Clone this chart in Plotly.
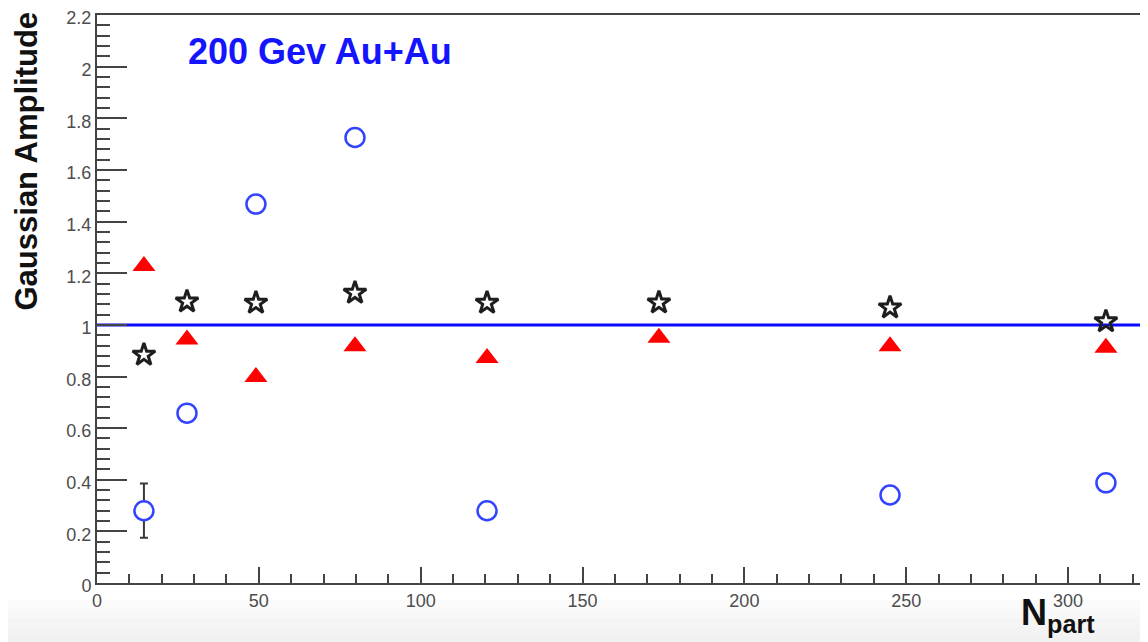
import plotly.graph_objects as go

# ---- data ----
npart_all = [14.5, 27.8, 49.1, 79.7, 120.5, 173.6, 245.0, 311.7]
circle_npart = [14.5, 27.8, 49.1, 79.7, 120.5, 245.0, 311.7]
circle_amp = [0.280, 0.658, 1.468, 1.726, 0.280, 0.341, 0.388]
circle_err = [0.105, 0, 0, 0, 0, 0, 0]
triangle_amp = [1.228, 0.943, 0.798, 0.917, 0.872, 0.950, 0.917, 0.911]
star_amp = [0.884, 1.090, 1.085, 1.124, 1.085, 1.086, 1.067, 1.013]
ref_level = 1.0
x_tick_vals = [0, 50, 100, 150, 200, 250, 300]
y_tick_vals = [0, 0.2, 0.4, 0.6, 0.8, 1.0, 1.2, 1.4, 1.6, 1.8, 2.0, 2.2]
y_tick_text = ["0", "0.2", "0.4", "0.6", "0.8", "1", "1.2", "1.4", "1.6", "1.8", "2", "2.2"]
title_text = "200 Gev Au+Au"
y_title = "Gaussian Amplitude"
x_title = "N<sub>part</sub>"

# the page body adds an 8 px offset; size the figure to fill the rest of the window
OFF = 8
W, H = 1148 - OFF, 642 - OFF
ML, MR, MT, MB = 97 - OFF, 0, 15 - OFF, H - (583 - OFF)
PW, PH = W - ML - MR, H - MT - MB
X_MAX = 324.7
Y_MAX = 2.2005

def px_x(p):  # screen pixel -> paper x
    return (p - OFF - ML) / PW

def px_y(p):  # screen pixel -> paper y
    return (H - MB - (p - OFF)) / PH

FONT = "Liberation Sans, Arial, Helvetica, sans-serif"
AXIS_COL = "#444444"
TICK_FONT = dict(family=FONT, size=18, color="#4d4d4d")

fig = go.Figure()

fig.add_hline(y=ref_level, line=dict(color="#0a0aff", width=3), layer="below")

fig.add_trace(go.Scatter(
    x=circle_npart, y=circle_amp, mode="markers",
    error_y=dict(type="data", array=circle_err, visible=True, color="#3a3a3a", thickness=2, width=4),
    marker=dict(symbol="circle", size=19, color="white", line=dict(color="#3344ff", width=2.5)),
    showlegend=False))

fig.add_trace(go.Scatter(
    x=npart_all, y=triangle_amp, mode="markers",
    marker=dict(symbol="triangle-up", size=20, color="#ff0000", line=dict(width=0)),
    showlegend=False))

fig.add_trace(go.Scatter(
    x=npart_all, y=star_amp, mode="markers",
    marker=dict(symbol="star-open", size=17, color="#1e1e1e", line=dict(color="#1e1e1e", width=3)),
    showlegend=False))

# light grey band at the bottom of the picture
greys = ["#fbfbfb", "#f8f8f8", "#f5f5f5", "#f3f3f3", "#f1f1f1"]
y_px = 600
for g in greys:
    fig.add_shape(type="rect", xref="paper", yref="paper",
                  x0=px_x(OFF), x1=px_x(1148), y0=px_y(min(y_px + 9, 642)), y1=px_y(y_px),
                  fillcolor=g, line=dict(width=0), layer="below")
    y_px += 9

fig.update_layout(
    width=W, height=H,
    margin=dict(l=ML, r=MR, t=MT, b=MB, autoexpand=False),
    paper_bgcolor="white", plot_bgcolor="rgba(0,0,0,0)",
    font=dict(family=FONT, color="#4d4d4d", size=18),
    xaxis=dict(range=[0, X_MAX], showgrid=False, zeroline=False, automargin=False,
               tickmode="array", tickvals=x_tick_vals,
               ticks="inside", ticklen=16, tickwidth=1.6, tickcolor=AXIS_COL,
               minor=dict(dtick=10, ticks="inside", ticklen=9, tickwidth=1.6, tickcolor=AXIS_COL),
               showline=True, linecolor=AXIS_COL, linewidth=2, mirror=True,
               tickfont=TICK_FONT, ticklabeloverflow="allow"),
    yaxis=dict(range=[0, Y_MAX], showgrid=False, zeroline=False, automargin=False,
               tickmode="array", tickvals=y_tick_vals, ticktext=y_tick_text,
               ticks="inside", ticklen=30, tickwidth=1.6, tickcolor=AXIS_COL,
               minor=dict(dtick=0.04, ticks="inside", ticklen=13, tickwidth=1.6, tickcolor=AXIS_COL),
               showline=True, linecolor=AXIS_COL, linewidth=2,
               tickfont=TICK_FONT, ticklabeloverflow="allow", ticklabelshift=3),
)

fig.add_annotation(text="<b>" + y_title + "</b>", xref="paper", yref="paper",
                   x=px_x(26), y=px_y(10), xanchor="center", yanchor="top",
                   textangle=-90, showarrow=False,
                   font=dict(family=FONT, size=31, color="#111111"))

fig.add_annotation(text="<b>" + title_text + "</b>", xref="paper", yref="paper",
                   x=px_x(186), y=px_y(51), xanchor="left", yanchor="middle",
                   showarrow=False, font=dict(family=FONT, size=36, color="#1414ff"))

fig.add_annotation(text="<b>" + x_title + "</b>", xref="paper", yref="paper",
                   x=px_x(1019), y=px_y(590), xanchor="left", yanchor="top",
                   showarrow=False, font=dict(family=FONT, size=36, color="#111111"))

fig.write_html("out.html")
